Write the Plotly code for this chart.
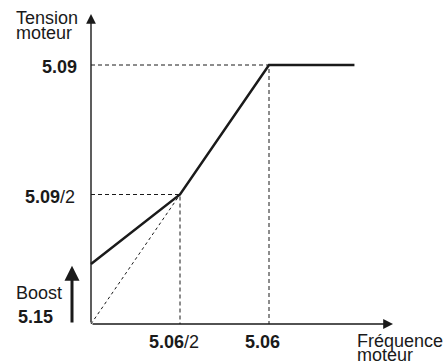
import plotly.graph_objects as go

# V/f characteristic: motor voltage vs motor frequency (fractions of nominal values)
freq_pts = [0.0, 0.5, 1.0, 1.48]        # × rated frequency (Pr 5.06)
volt_pts = [0.232, 0.5, 1.0, 1.0]       # × rated voltage (Pr 5.09)
linear_freq = [0.0, 0.5]                # pure linear law through the origin
linear_volt = [0.0, 0.5]
boost_level = 0.232                     # voltage boost (Pr 5.15)

x_ticks = [0.5, 1.0]
x_tick_text = ["<b>5.06</b>/2", "<b>5.06</b>"]
y_ticks = [0.5, 1.0]
y_tick_text = ["<b>5.09</b>/2", "<b>5.09</b>"]

W, H = 446, 361
X0, XU = 91, 178      # pixel of x=0, pixels per unit
Y0, YU = 324, 259     # pixel of y=0, pixels per unit


def px_x(p):
    return (p - X0) / XU


def px_y(p):
    return (Y0 - p) / YU


INK = "#1a1a1a"
FONT = "Liberation Sans, Arial, sans-serif"
FS = 18

fig = go.Figure()

# dashed guide lines to the tick positions
for xv, yv in zip(x_ticks, y_ticks):
    fig.add_trace(go.Scatter(x=[0, xv, xv], y=[yv, yv, 0], mode="lines",
                             line=dict(color=INK, width=1, dash="4px,3px"),
                             hoverinfo="skip", showlegend=False))

# linear law (no boost)
fig.add_trace(go.Scatter(x=linear_freq, y=linear_volt, mode="lines",
                         line=dict(color=INK, width=1, dash="3px,3px"),
                         hoverinfo="skip", showlegend=False))

# actual characteristic with boost
fig.add_trace(go.Scatter(x=freq_pts, y=volt_pts, mode="lines",
                         line=dict(color=INK, width=2.5),
                         hoverinfo="skip", showlegend=False))

ann = []
# axes with arrow heads
ann.append(dict(x=px_x(393), y=0, ax=0, ay=0, xref="x", yref="y", axref="x", ayref="y",
                showarrow=True, arrowhead=2, arrowsize=1.4, arrowwidth=1.4,
                arrowcolor=INK, text=""))
ann.append(dict(x=0, y=px_y(14), ax=0, ay=0, xref="x", yref="y", axref="x", ayref="y",
                showarrow=True, arrowhead=2, arrowsize=1.4, arrowwidth=1.4,
                arrowcolor=INK, text=""))
# boost arrow
ann.append(dict(x=px_x(72), y=boost_level * 0.97, ax=px_x(72), ay=0, xref="x", yref="y",
                axref="x", ayref="y", showarrow=True, arrowhead=2, arrowsize=1,
                arrowwidth=3, arrowcolor=INK, text=""))


def label(text, xp, yp, xanchor="center", size=FS):
    ann.append(dict(x=px_x(xp), y=px_y(yp), xref="x", yref="y", text=text,
                    showarrow=False, xanchor=xanchor, yanchor="middle",
                    borderpad=0,
                    font=dict(family=FONT, size=size, color=INK)))


# y tick labels
label(y_tick_text[1], 78, 66.5, "right")
label(y_tick_text[0], 76, 196.5, "right")
# x tick labels
label(x_tick_text[0], 174, 342)
label(x_tick_text[1], 262, 342)
# axis titles
label("Tension", 15, 18, "left")
label("moteur", 15, 33, "left")
label("Fréquence", 356, 340.5, "left")
label("moteur", 356, 354.5, "left")
# boost labels
label("Boost", 15, 292.5, "left")
label("<b>5.15</b>", 17, 316.5, "left")

fig.update_layout(
    width=W, height=H, autosize=False,
    margin=dict(l=0, r=0, t=0, b=0),
    paper_bgcolor="white", plot_bgcolor="white",
    xaxis=dict(range=[px_x(0), px_x(W)], visible=False, fixedrange=True),
    yaxis=dict(range=[px_y(H), px_y(0)], visible=False, fixedrange=True),
    annotations=ann,
    showlegend=False,
)

fig.write_html("out.html", config={"displayModeBar": False})
